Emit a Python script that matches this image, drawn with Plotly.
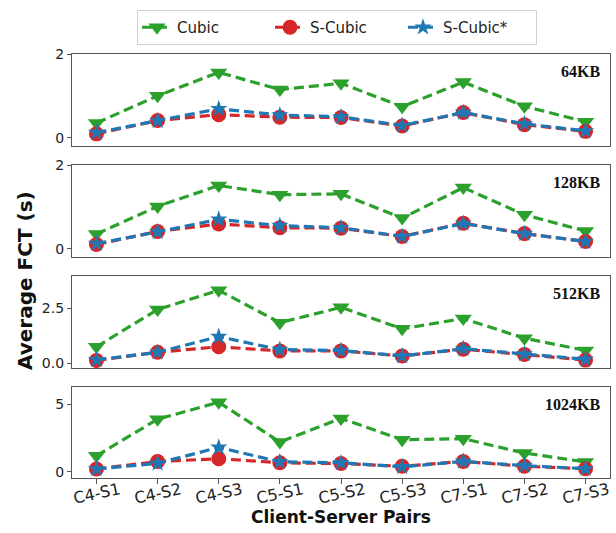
import plotly.graph_objects as go
from plotly.subplots import make_subplots

# Client-server pairs on the x axis
pairs = ["C4-S1", "C4-S2", "C4-S3", "C5-S1", "C5-S2", "C5-S3", "C7-S1", "C7-S2", "C7-S3"]

# Flow sizes, one panel each
sizes = ["64KB", "128KB", "512KB", "1024KB"]

# Average flow completion time (s) per flow size
cubic_64 = [0.35, 1.00, 1.56, 1.15, 1.30, 0.74, 1.33, 0.75, 0.38]
scubic_64 = [0.09, 0.41, 0.55, 0.49, 0.48, 0.28, 0.60, 0.31, 0.15]
scubicx_64 = [0.12, 0.40, 0.69, 0.54, 0.50, 0.29, 0.60, 0.33, 0.16]

cubic_128 = [0.35, 1.01, 1.51, 1.29, 1.31, 0.73, 1.46, 0.81, 0.42]
scubic_128 = [0.10, 0.41, 0.59, 0.50, 0.49, 0.29, 0.61, 0.36, 0.17]
scubicx_128 = [0.12, 0.40, 0.70, 0.55, 0.50, 0.29, 0.60, 0.36, 0.17]

cubic_512 = [0.75, 2.45, 3.33, 1.85, 2.55, 1.57, 2.04, 1.14, 0.58]
scubic_512 = [0.12, 0.50, 0.75, 0.56, 0.56, 0.33, 0.64, 0.40, 0.14]
scubicx_512 = [0.15, 0.50, 1.21, 0.62, 0.58, 0.33, 0.66, 0.42, 0.18]

cubic_1024 = [1.18, 3.89, 5.15, 2.20, 3.95, 2.37, 2.45, 1.38, 0.72]
scubic_1024 = [0.20, 0.75, 0.96, 0.66, 0.60, 0.40, 0.76, 0.40, 0.22]
scubicx_1024 = [0.20, 0.62, 1.80, 0.73, 0.66, 0.36, 0.76, 0.45, 0.22]

# y-axis limits and tick values for each panel
y_limits = [[-0.2, 2.0], [-0.2, 2.0], [-0.22, 3.98], [-0.47, 6.28]]
y_ticks = [[0, 2], [0, 2], [0, 2.5], [0, 5]]
y_formats = ["", "", ".1f", ""]

panels = [
    (cubic_64, scubic_64, scubicx_64),
    (cubic_128, scubic_128, scubicx_128),
    (cubic_512, scubic_512, scubicx_512),
    (cubic_1024, scubic_1024, scubicx_1024),
]

series_names = ["Cubic", "S-Cubic", "S-Cubic*"]
colors = ["#2ca02c", "#d62728", "#1f77b4"]
symbols = ["triangle-down", "circle", "star"]
msizes = [15, 15, 13]

W, H = 616, 533
L, R, T, B = 72, 6, 54, 55
plot_h = H - T - B
# panel top/bottom edges in pixels from the top of the page
panel_px = [(54, 146), (165, 257), (276, 368), (387, 478)]

fig = make_subplots(rows=4, cols=1)

for i, vals in enumerate(panels):
    for j, name in enumerate(series_names):
        fig.add_trace(
            go.Scatter(
                x=pairs,
                y=vals[j],
                name=name,
                mode="lines+markers",
                line=dict(color=colors[j], width=3.2, dash="10px,5px"),
                marker=dict(symbol=symbols[j], size=msizes[j], color=colors[j],
                            line=dict(width=0)),
                showlegend=(i == 0),
                legendgroup=name,
            ),
            row=i + 1, col=1,
        )

axis_line = dict(showline=True, mirror=True, linecolor="#555555", linewidth=1.2,
                 showgrid=False, zeroline=False)

for i in range(4):
    top, bot = panel_px[i]
    dom = [(H - B - bot) / plot_h, (H - B - top) / plot_h]
    fig.update_yaxes(
        domain=dom, range=y_limits[i], tickvals=y_ticks[i], tickformat=y_formats[i],
        ticks="outside", ticklen=4, tickcolor="#555555",
        tickfont=dict(family="DejaVu Sans", size=14, color="#222222"),
        row=i + 1, col=1, **axis_line,
    )
    fig.update_xaxes(
        type="category", categoryorder="array", categoryarray=pairs,
        range=[-0.4, len(pairs) - 0.6], showticklabels=False,
        ticks="outside" if i == 3 else "", ticklen=5, tickcolor="#555555",
        row=i + 1, col=1, **axis_line,
    )
    # flow size label in the panel's top-right corner
    fig.add_annotation(
        text="<b>%s</b>" % sizes[i], xref="paper", x=(602 - L) / (W - L - R),
        xanchor="right", yref="y%s domain" % ("" if i == 0 else i + 1),
        y=1 - 17 / (bot - top), yanchor="middle", showarrow=False,
        font=dict(family="Liberation Serif", size=16, color="#111111"),
    )

# slanted x tick labels under the bottom panel
for p in pairs:
    fig.add_annotation(
        text=p, xref="x4", x=p, yref="paper", y=(H - B - 493) / plot_h,
        xanchor="center", yanchor="middle", textangle=-12, showarrow=False,
        font=dict(family="DejaVu Sans", size=16, color="#222222"),
    )

# axis titles
fig.add_annotation(
    text="<b>Client-Server Pairs</b>", xref="x4", x=pairs[4], yref="paper",
    y=(H - B - 517) / plot_h, xanchor="center", yanchor="middle", showarrow=False,
    font=dict(family="DejaVu Sans", size=17, color="#111111"),
)
fig.add_annotation(
    text="<b>Average FCT (s)</b>", xref="paper", x=(25 - L) / (W - L - R),
    yref="paper", y=(H - B - 281) / plot_h, xanchor="center", yanchor="middle",
    textangle=-90, showarrow=False,
    font=dict(family="DejaVu Sans", size=20, color="#111111"),
)

fig.update_layout(
    width=W, height=H,
    margin=dict(l=L, r=R, t=T, b=B),
    paper_bgcolor="white", plot_bgcolor="white",
    showlegend=True,
    legend=dict(
        orientation="h", x=(137 - L) / (W - L - R), xanchor="left",
        y=(H - B - 10) / plot_h, yanchor="top",
        bordercolor="#d0d0d0", borderwidth=1, bgcolor="white",
        font=dict(family="DejaVu Sans", size=15, color="#222222"),
        entrywidth=88, entrywidthmode="pixels",
    ),
)

fig.write_html("out.html")
